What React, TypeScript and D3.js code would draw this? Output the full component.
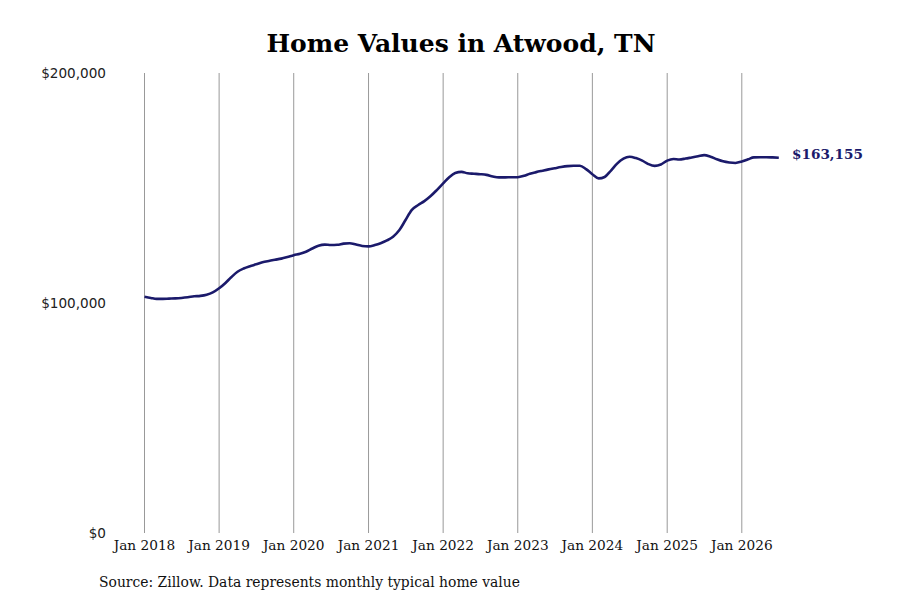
import * as d3 from "d3";

const START_YEAR = 2018;
const YEAR_TICKS = [2018, 2019, 2020, 2021, 2022, 2023, 2024, 2025, 2026];
const Y_TICKS = [0, 100000, 200000];

// Typical home value, $ thousands, monthly from Jan 2018 to Jul 2026
const V2018 = [102.7, 102.2, 101.8, 101.8, 101.9, 102.0, 102.2, 102.5, 102.9, 103.1, 103.6, 104.6];
const V2019 = [106.4, 108.7, 111.2, 113.6, 115.0, 116.0, 116.8, 117.7, 118.3, 118.8, 119.3, 120.0];
const V2020 = [120.8, 121.4, 122.3, 123.7, 124.9, 125.4, 125.2, 125.3, 125.8, 126.0, 125.4, 124.8];
const V2021 = [124.6, 125.2, 126.0, 127.2, 128.8, 131.7, 136.1, 140.5, 142.6, 144.3, 146.5, 149.1];
const V2022 = [152.0, 154.8, 156.5, 157.0, 156.4, 156.2, 156.0, 155.7, 155.0, 154.6, 154.6, 154.7];
const V2023 = [154.7, 155.3, 156.2, 156.9, 157.5, 158.1, 158.6, 159.1, 159.5, 159.7, 159.7, 158.2];
const V2024 = [156.0, 154.2, 154.8, 157.6, 160.6, 162.8, 163.6, 163.0, 161.9, 160.4, 159.6, 160.2];
const V2025 = [161.9, 162.6, 162.4, 162.8, 163.3, 163.8, 164.3, 163.6, 162.5, 161.6, 161.1, 160.9];
const V2026 = [161.5, 162.5, 163.3, 163.4, 163.4, 163.3, 163.155];

const VALUES = [...V2018, ...V2019, ...V2020, ...V2021, ...V2022, ...V2023, ...V2024, ...V2025, ...V2026];

const LINE_COLOR = "#1b1a6b";

export default function App() {
  const width = 900;
  const height = 600;

  const data = VALUES.map((v, i) => ({
    date: new Date(START_YEAR, i, 1),
    value: v * 1000,
  }));

  const x = d3
    .scaleTime()
    .domain([new Date(2018, 0, 1), new Date(2026, 0, 1)])
    .range([144.5, 741.8]);

  const y = d3.scaleLinear().domain([0, 200000]).range([533, 73]);

  const line = d3
    .line<{ date: Date; value: number }>()
    .x((d) => x(d.date))
    .y((d) => y(d.value))
    .curve(d3.curveMonotoneX);

  const last = data[data.length - 1];
  const fmt = d3.format("$,.0f");

  return (
    <svg
      width={width}
      height={height}
      style={{ position: "absolute", left: 0, top: 0, background: "#fff" }}
    >
      <text
        x={461}
        y={52}
        textAnchor="middle"
        fontFamily="DejaVu Serif"
        fontWeight="bold"
        fontSize={25}
      >
        Home Values in Atwood, TN
      </text>

      {YEAR_TICKS.map((yr) => {
        const gx = x(new Date(yr, 0, 1));
        return (
          <g key={yr}>
            <line x1={gx} x2={gx} y1={73} y2={533} stroke="#999" strokeWidth={1} />
            <text
              x={gx}
              y={550}
              textAnchor="middle"
              fontFamily="DejaVu Serif"
              fontSize={13.7}
              fill="#111"
            >
              Jan {yr}
            </text>
          </g>
        );
      })}

      {Y_TICKS.map((t) => (
        <text
          key={t}
          x={106}
          y={y(t) + 5}
          textAnchor="end"
          fontFamily="DejaVu Sans"
          fontSize={13.6}
          fill="#222"
        >
          {fmt(t)}
        </text>
      ))}

      <path
        d={line(data) ?? ""}
        fill="none"
        stroke={LINE_COLOR}
        strokeWidth={2.6}
        strokeLinejoin="round"
      />

      <text
        x={792}
        y={y(last.value) + 1}
        fontFamily="DejaVu Serif"
        fontWeight="bold"
        fontSize={13.6}
        fill={LINE_COLOR}
      >
        {fmt(last.value)}
      </text>

      <text x={99} y={587} fontFamily="DejaVu Serif" fontSize={13.9} fill="#111">
        Source: Zillow. Data represents monthly typical home value
      </text>
    </svg>
  );
}
